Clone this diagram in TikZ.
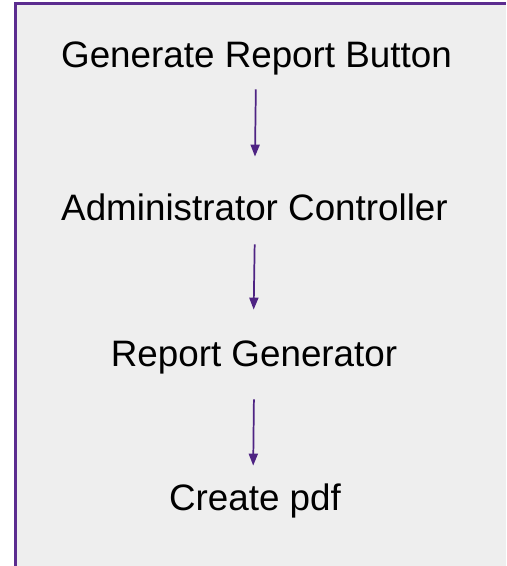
\documentclass[tikz,border=0pt]{standalone}
\usepackage{fontspec}
\setmainfont{Liberation Sans}
\usetikzlibrary{arrows.meta}
\definecolor{boxpurple}{HTML}{5B2C8F}
\definecolor{arrowpurple}{HTML}{4E2383}
\definecolor{boxgray}{HTML}{EEEEEE}

\begin{document}
\begin{tikzpicture}[x=0.75pt,y=0.75pt,yscale=-1,xscale=1,
  steplabel/.style={anchor=base,inner sep=0pt,text height=19.6pt,text depth=0pt,
    font=\fontsize{27.6}{33}\selectfont},
  flowarrow/.style={draw=arrowpurple,line width=1.3pt,
    -{Triangle[length=9pt,width=6.8pt]}}]
\useasboundingbox (0,0) rectangle (506,566);

%Shape: Rectangle (cut off at the right and bottom)
\fill [boxgray] (15.5,3.5) rectangle (506,566);
\draw [boxpurple,line width=1.6pt] (15.5,566) -- (15.5,3.5) -- (506,3.5);

% Text Node
\node [steplabel] (button) at (256.5,68) {Generate Report Button};
% Text Node
\node [steplabel] (controller) at (254.5,221) {Administrator Controller};
% Text Node
\node [steplabel] (generator) at (254,366) {Report Generator};
% Text Node
\node [steplabel] (pdf) at (255,510) {Create pdf};

% Arrows
\draw [flowarrow,shorten <=15.75pt,shorten >=28.5pt] ([xshift=-0.3pt]button.south) -- ([xshift=0pt]controller.north);
\draw [flowarrow,shorten <=17.25pt,shorten >=22.5pt] ([xshift=0.4pt]controller.south) -- ([xshift=-0.6pt]generator.north);
\draw [flowarrow,shorten <=24.75pt,shorten >=13.5pt] ([xshift=0.2pt]generator.south) -- ([xshift=-1.5pt]pdf.north);
\end{tikzpicture}
\end{document}
